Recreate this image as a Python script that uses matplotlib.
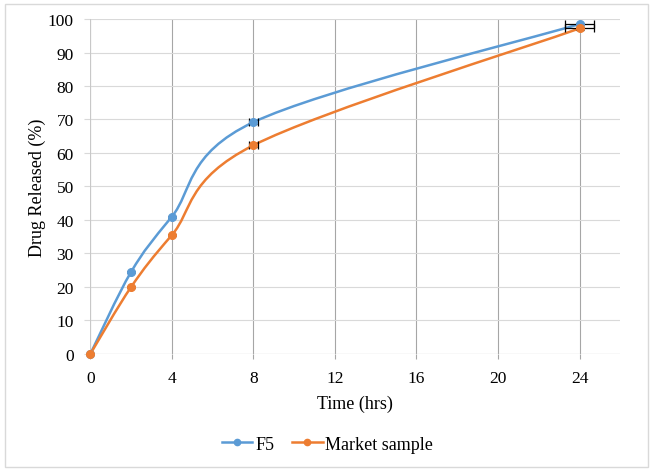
import matplotlib
matplotlib.use("Agg")
from matplotlib import pyplot as plt
from matplotlib.path import Path
from matplotlib.patches import PathPatch, Rectangle
from matplotlib.lines import Line2D

time_hrs = [0, 2, 4, 8, 24]
f5 = [0, 24.5, 41.0, 69.2, 98.5]
market = [0, 20.0, 35.5, 62.3, 97.2]
f5_xerr = [0, 0, 0, 0.2, 0.7]
f5_yerr = [0, 0.3, 0.3, 0.6, 0.4]
market_xerr = [0, 0, 0, 0.2, 0.7]
market_yerr = [0, 0.3, 0.3, 0.6, 0.4]

BLUE = '#5B9BD5'
ORANGE = '#ED7D31'

plt.rcParams['font.family'] = ['Liberation Serif', 'DejaVu Serif']


def smooth_path(xs, ys):
    # bezier smoothing like excel's "smoothed line"
    pts = list(zip(xs, ys))
    n = len(pts)
    verts = [pts[0]]
    codes = [Path.MOVETO]
    for i in range(n - 1):
        p0 = pts[i - 1] if i > 0 else pts[i]
        p1 = pts[i]
        p2 = pts[i + 1]
        p3 = pts[i + 2] if i + 2 < n else pts[i + 1]
        c1 = (p1[0] + (p2[0] - p0[0]) / 6, p1[1] + (p2[1] - p0[1]) / 6)
        c2 = (p2[0] - (p3[0] - p1[0]) / 6, p2[1] - (p3[1] - p1[1]) / 6)
        verts += [c1, c2, p2]
        codes += [Path.CURVE4] * 3
    return Path(verts, codes)


fig = plt.figure(figsize=(6.55, 4.77), dpi=100)
ax = fig.add_axes([0.138, 0.256, 0.809, 0.702])

for ys, xe, ye, col in [(f5, f5_xerr, f5_yerr, BLUE), (market, market_xerr, market_yerr, ORANGE)]:
    ax.add_patch(PathPatch(smooth_path(time_hrs, ys), facecolor='none', edgecolor=col,
                           lw=1.8, zorder=3))
    ax.errorbar(time_hrs, ys, xerr=xe, yerr=ye, fmt='none', ecolor='black',
                elinewidth=0.9, capsize=3, capthick=0.9, zorder=4)
    ax.plot(time_hrs, ys, 'o', color=col, ms=5.5, zorder=5, clip_on=False)

ax.set_xlim(0, 26)
ax.set_ylim(0, 100)
ax.set_xticks(range(0, 25, 4))
ax.set_yticks(range(0, 101, 10))
ax.tick_params(axis='x', length=3.8, color='#a6a6a6', labelsize=12.5, pad=8)
ax.tick_params(axis='y', length=4.5, color='#d9d9d9', labelsize=12.5, pad=7.5)
for s in ax.spines.values():
    s.set_visible(False)
ax.grid(axis='x', color='#a6a6a6', lw=0.8)
ax.grid(axis='y', color='#d9d9d9', lw=0.8)
ax.axhline(0, color='#bfbfbf', lw=0.8, zorder=1)
ax.axvline(0, color='#c8c8c8', lw=0.8, zorder=1)
ax.set_axisbelow(True)
ax.set_xlabel('Time (hrs)', fontsize=13, labelpad=6)
ax.set_ylabel('Drug Released (%)', fontsize=13, labelpad=1.5)

handles = [Line2D([], [], color=BLUE, lw=1.8, marker='o', ms=4.5),
           Line2D([], [], color=ORANGE, lw=1.8, marker='o', ms=4.5)]
fig.legend(handles, ['F5', 'Market sample'], loc='center', bbox_to_anchor=(0.5, 0.067),
           ncol=2, frameon=False, fontsize=13, handlelength=1.7, columnspacing=1.0,
           handletextpad=0.15)

fig.patches.append(Rectangle((5 / 655, 1 - 468 / 477), 643 / 655, 463 / 477,
                             transform=fig.transFigure, fill=False,
                             edgecolor='#d9d9d9', lw=1))

fig.savefig('out.png', dpi=100)
